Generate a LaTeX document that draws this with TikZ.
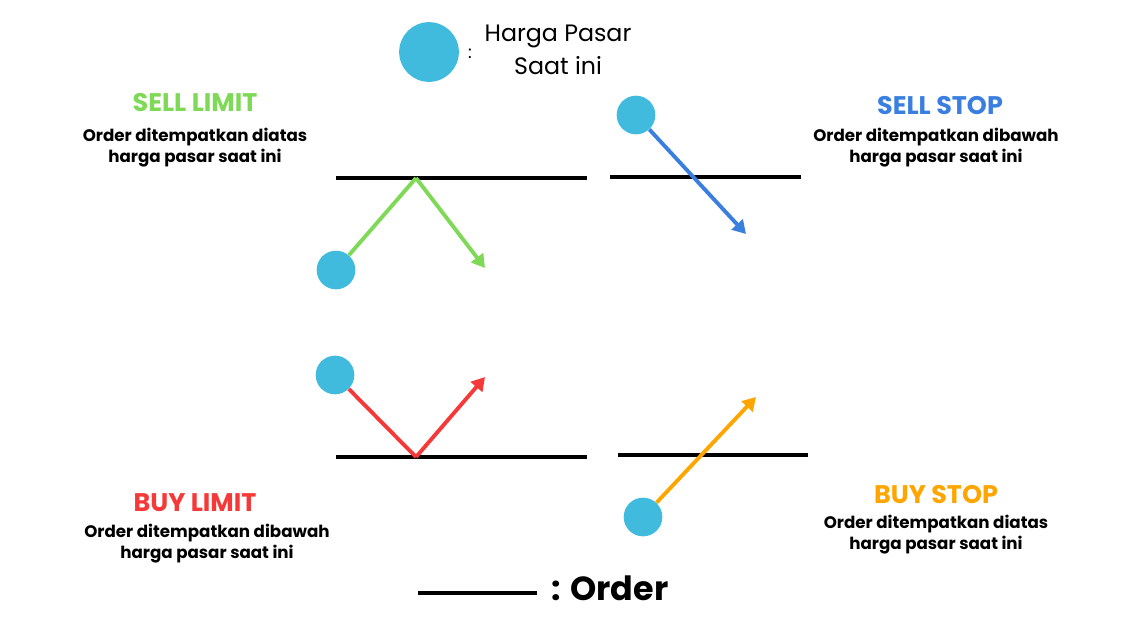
\documentclass[tikz,border=0pt]{standalone}
\usepackage{fontspec}
\setmainfont{Poppins}
\usetikzlibrary{arrows.meta}
\definecolor{cir}{HTML}{40BBDE}
\definecolor{gr}{HTML}{7ED957}
\definecolor{bl}{HTML}{3A7FE0}
\definecolor{rd}{HTML}{F53838}
\definecolor{og}{HTML}{FFA500}
\begin{document}
\begin{tikzpicture}[x=0.02cm,y=-0.02cm,
  dot/.style={circle,fill=cir,inner sep=0,minimum size=#1},
  ord/.style={line width=2.3pt},
  arr/.style={line width=2.2pt,-{Triangle[length=7.5pt,width=8.5pt]}},
  seg/.style={line width=2.2pt},
  ttl/.style={font=\bfseries\fontsize{14.5}{17}\selectfont},
  dsc/.style={font=\bfseries\fontsize{9.5}{12}\selectfont,align=center}]
\useasboundingbox (0,0) rectangle (1125,633);
% legend
\node[dot=34pt] (lg) at (429,52) {};
\node (colon) at (470,54) {:};
\node[align=center,font=\fontsize{13.5}{19}\selectfont] (lgt) at (558,50) {Harga Pasar\\Saat ini};
% sell limit
\node[ttl,text=gr] (slt) at (195,103) {SELL LIMIT};
\node[dsc] (sld) at (195,148) {Order ditempatkan diatas\\harga pasar saat ini};
\coordinate (sla) at (336,178); \coordinate (slb) at (587,178);
\draw[ord] (sla) -- (slb);
\node[dot=22pt] (slc) at (336,270) {};
\coordinate (slp) at (416,178); \coordinate (sle) at (485,268);
\draw[seg,gr] (slc) -- (slp);
\draw[arr,gr] (slp) -- (sle);
% sell stop
\node[ttl,text=bl] (sst) at (940,106) {SELL STOP};
\node[dsc] (ssd) at (936,148) {Order ditempatkan dibawah\\harga pasar saat ini};
\coordinate (ssa) at (610,177); \coordinate (ssb) at (801,177);
\draw[ord] (ssa) -- (ssb);
\node[dot=22pt] (ssc) at (636,115) {};
\coordinate (sse) at (746,234);
\draw[arr,bl] (ssc) -- (sse);
% buy limit
\node[ttl,text=rd] (blt) at (195,503) {BUY LIMIT};
\node[dsc] (bld) at (207,544) {Order ditempatkan dibawah\\harga pasar saat ini};
\coordinate (bla) at (336,457); \coordinate (blb) at (587,457);
\draw[ord] (bla) -- (blb);
\node[dot=22pt] (blc) at (335,375) {};
\coordinate (blp) at (416,457); \coordinate (ble) at (485,377);
\draw[seg,rd] (blc) -- (blp);
\draw[arr,rd] (blp) -- (ble);
% buy stop
\node[ttl,text=og] (bst) at (936,495) {BUY STOP};
\node[dsc] (bsd) at (936,535) {Order ditempatkan diatas\\harga pasar saat ini};
\coordinate (bsa) at (618,455); \coordinate (bsb) at (808,455);
\draw[ord] (bsa) -- (bsb);
\node[dot=22pt] (bsc) at (643,517) {};
\coordinate (bse) at (756,397);
\draw[arr,og] (bsc) -- (bse);
% order legend
\coordinate (ola) at (418,593); \coordinate (olb) at (537,593);
\draw[ord] (ola) -- (olb);
\node[font=\bfseries\fontsize{19}{23}\selectfont] (olt) at (610,588) {: Order};
\end{tikzpicture}
\end{document}
